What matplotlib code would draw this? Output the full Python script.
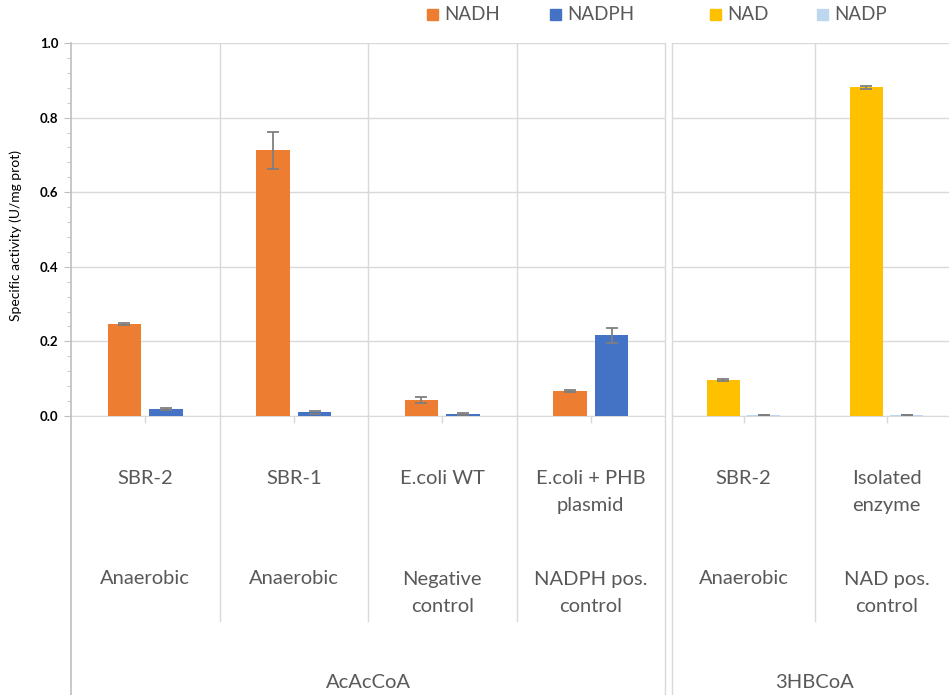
import matplotlib
matplotlib.use("Agg")
import matplotlib.pyplot as plt
from matplotlib.patches import Rectangle
import numpy as np

# ---- data -------------------------------------------------------------
acac_strain = ["SBR-2", "SBR-1", "E.coli WT", "E.coli + PHB\nplasmid"]
acac_cond = ["Anaerobic", "Anaerobic", "Negative\ncontrol", "NADPH pos.\ncontrol"]
nadh = [0.247, 0.712, 0.043, 0.068]
nadh_err = [0.003, 0.050, 0.009, 0.003]
nadph = [0.019, 0.010, 0.005, 0.217]
nadph_err = [0.002, 0.004, 0.002, 0.020]

hb_strain = ["SBR-2", "Isolated\nenzyme"]
hb_cond = ["Anaerobic", "NAD pos.\ncontrol"]
nad = [0.097, 0.882]
nad_err = [0.003, 0.004]
nadp = [0.002, 0.002]
nadp_err = [0.0, 0.0]

substrates = ["AcAcCoA", "3HBCoA"]
series_names = ["NADH", "NADPH", "NAD", "NADP"]
colors = ["#ED7D31", "#4472C4", "#FFC000", "#BDD7EE"]

y_ticks = [0.0, 0.2, 0.4, 0.6, 0.8, 1.0]
y_label = "Specific activity (U/mg prot)"

# ---- style ------------------------------------------------------------
plt.rcParams['font.family'] = ['Lato', 'DejaVu Sans']
GRID = "#D9D9D9"
TXT = "#595959"
ERR = "#7F7F7F"
CAT_FS = 14.5

W, H = 949, 695
fig = plt.figure(figsize=(W / 100, H / 100), dpi=100)

def fx(px):
    return px / W

def fy(py):
    return 1 - py / H

y0, y1 = 416, 43
ax_bottom = fy(y0)
ax_height = (y0 - y1) / H
axL = fig.add_axes([fx(71), ax_bottom, fx(665) - fx(71), ax_height])
axR = fig.add_axes([fx(672), ax_bottom, fx(958) - fx(672), ax_height])

def frac(py):
    # vertical position in axes fraction for a pixel row below the axes
    return -(py - y0) / (y0 - y1)

def draw_panel(ax, vals_a, err_a, vals_b, err_b, col_a, col_b,
               strains, conds, substrate, show_y):
    n = len(vals_a)
    idx = np.arange(n)
    w = 0.225
    ax.bar(idx + 0.36, vals_a, w, color=col_a, zorder=3)
    ax.bar(idx + 0.64, vals_b, w, color=col_b, zorder=3)
    ax.errorbar(idx + 0.36, vals_a, yerr=err_a, fmt="none", ecolor=ERR,
                elinewidth=1.3, capsize=4, capthick=1.3, zorder=4)
    ax.errorbar(idx + 0.64, vals_b, yerr=err_b, fmt="none", ecolor=ERR,
                elinewidth=1.3, capsize=4, capthick=1.3, zorder=4)
    ax.set_xlim(0, n)
    ax.set_ylim(0, 1.0)
    ax.set_yticks(y_ticks)
    ax.yaxis.grid(True, color=GRID, lw=1.0, zorder=0)
    ax.set_axisbelow(True)
    for s in ["top", "right"]:
        ax.spines[s].set_visible(False)
    ax.spines["bottom"].set_color(GRID)
    ax.spines["left"].set_visible(False)

    # category ticks at group centres
    ax.set_xticks(idx + 0.5)
    ax.set_xticklabels([""] * n)
    ax.tick_params(axis="x", length=5, color=GRID, width=1)

    tr = ax.get_xaxis_transform()
    # group separators
    for b in range(1, n):
        ax.plot([b, b], [0, 1], color=GRID, lw=1, transform=tr, zorder=1)
        ax.plot([b, b], [0, frac(621)], color=GRID, lw=1, transform=tr,
                clip_on=False)
    # outer separators running to the bottom
    ax.plot([0, 0], [1, frac(H + 2)], color="#BFBFBF" if show_y else GRID,
            lw=1.2 if show_y else 1, transform=tr, clip_on=False, zorder=5)
    if show_y:
        ax.plot([n, n], [1, frac(H + 2)], color=GRID, lw=1, transform=tr,
                clip_on=False)

    # two-level category labels
    for i in range(n):
        for lines, first in ((strains[i], 478), (conds[i], 579)):
            for k, line in enumerate(lines.split("\n")):
                ax.text(i + 0.5, frac(first + 27 * k), line, transform=tr,
                        ha="center", va="center", fontsize=CAT_FS, color=TXT)
    ax.text(n / 2, frac(683), substrate, transform=tr, ha="center",
            va="center", fontsize=CAT_FS, color=TXT)

    if show_y:
        ax.set_yticks(np.arange(0, 1.0001, 0.04), minor=True)
        ax.tick_params(axis="y", which="major", length=5, color="#BFBFBF",
                       labelsize=9.5, pad=4)
        ax.tick_params(axis="y", which="minor", length=3, color="#BFBFBF")
        ax.set_yticklabels([f"{v:.1f}" for v in y_ticks], fontweight="bold")
        ax.set_ylabel(y_label, fontsize=10)
    else:
        ax.tick_params(axis="y", which="both", left=False, labelleft=False)


draw_panel(axL, nadh, nadh_err, nadph, nadph_err, colors[0], colors[1],
           acac_strain, acac_cond, substrates[0], True)
draw_panel(axR, nad, nad_err, nadp, nadp_err, colors[2], colors[3],
           hb_strain, hb_cond, substrates[1], False)
axL.yaxis.set_label_coords(-(71 - 22) / (665 - 71), 0.484)

# legend row
legend_x = [427, 550, 710, 817]
for name, col, x in zip(series_names, colors, legend_x):
    fig.patches.append(Rectangle((fx(x), fy(20)), 11 / W, 11 / H,
                                 transform=fig.transFigure, color=col))
    fig.text(fx(x + 17), fy(15), name, fontsize=13.5, color=TXT,
             ha="left", va="center")

fig.savefig("out.png", dpi=100)
